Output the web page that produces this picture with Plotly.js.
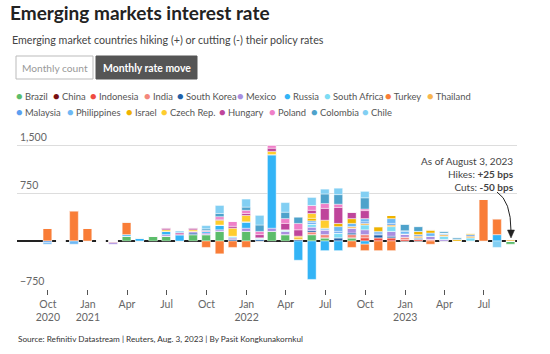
<!DOCTYPE html>
<html>
<head>
<meta charset="utf-8">
<script src="https://cdn.plot.ly/plotly-3.0.1.min.js"></script>
<style>
  html, body { margin: 0; padding: 0; background: #fff; }
  #chart { width: 550px; height: 354px; }
</style>
</head>
<body>
<div id="chart"></div>
<script>
// Months (bars drawn at month end)
const months = ["2020-09-30","2020-10-31","2020-11-30","2020-12-31","2021-01-31","2021-02-28","2021-03-31","2021-04-30","2021-05-31","2021-06-30","2021-07-31","2021-08-31","2021-09-30","2021-10-31","2021-11-30","2021-12-31","2022-01-31","2022-02-28","2022-03-31","2022-04-30","2022-05-31","2022-06-30","2022-07-31","2022-08-31","2022-09-30","2022-10-31","2022-11-30","2022-12-31","2023-01-31","2023-02-28","2023-03-31","2023-04-30","2023-05-31","2023-06-30","2023-07-31","2023-08-31"];

// Monthly policy-rate moves in basis points, per country
const brazil      = [0,0,0,0,0,0,75,0,75,75,0,100,100,150,0,150,0,150,100,0,100,50,0,50,0,0,0,0,0,0,0,0,0,0,0,-50];
const china       = [0,0,0,0,0,0,0,0,0,0,0,0,0,0,0,0,0,0,0,0,0,0,0,0,0,0,0,0,0,0,0,0,0,0,0,0];
const indonesia   = [0,0,0,0,0,-25,0,0,0,0,0,0,0,0,0,0,0,0,0,0,0,0,0,0,50,50,50,25,25,0,0,0,0,0,0,0];
const india       = [0,0,0,0,0,0,0,0,0,0,0,0,0,0,0,0,0,0,0,0,40,50,0,50,50,0,0,35,0,25,0,0,0,0,0,0];
const southKorea  = [0,0,0,0,0,0,0,0,0,0,0,25,0,0,25,0,25,0,0,25,25,0,50,25,0,50,25,0,25,0,0,0,0,0,0,0];
const mexico      = [0,0,0,0,0,-25,0,0,0,25,0,25,25,25,25,50,0,50,50,0,50,75,0,75,75,0,75,50,0,50,25,0,0,0,0,0];
const russia      = [0,0,0,0,0,0,25,50,0,50,100,0,25,75,0,100,0,1150,0,-300,-600,-150,-150,0,-50,0,0,0,0,0,0,0,0,0,100,0];
const southAfrica = [0,0,0,0,0,0,0,0,0,0,0,0,0,0,25,0,25,0,25,0,50,0,75,0,75,0,75,0,0,0,50,0,50,0,0,0];
const turkey      = [200,0,475,200,0,0,200,0,0,0,0,0,-100,-200,-100,-100,0,0,0,0,0,0,0,-100,-100,-150,-150,0,0,-50,0,0,0,650,250,0];
const thailand    = [0,0,0,0,0,0,0,0,0,0,0,0,0,0,0,0,0,0,0,0,0,0,0,25,25,0,25,0,25,0,25,0,25,0,0,25];
const malaysia    = [-25,0,0,0,0,0,0,0,0,0,0,0,0,0,0,0,0,0,0,0,25,0,25,0,25,25,25,0,25,0,0,0,25,0,0,0];
const philippines = [-25,0,-50,0,0,0,0,0,0,0,0,0,0,0,0,0,0,0,0,0,25,25,75,50,50,25,75,50,0,50,25,0,0,0,0,0];
const israel      = [0,0,0,0,0,0,0,0,0,0,0,0,0,0,0,0,0,0,0,25,40,0,50,75,0,75,50,0,50,50,0,25,25,0,0,0];
const czech       = [0,0,0,0,0,0,0,0,0,25,0,25,0,75,125,100,0,50,0,25,75,125,0,0,0,0,0,0,0,0,0,0,0,0,0,0];
const hungary     = [0,0,0,0,0,0,0,0,0,30,30,30,15,15,30,30,50,50,100,100,50,185,250,100,125,0,0,0,0,0,0,0,0,0,0,0];
const poland      = [0,0,0,0,0,0,0,0,0,0,0,0,0,40,75,50,50,50,75,100,75,75,50,0,25,0,0,0,0,0,0,0,0,0,0,0];
const colombia    = [0,0,0,0,0,0,0,0,0,0,0,0,25,50,0,50,100,0,100,100,0,150,150,0,175,0,0,100,75,0,25,25,0,0,0,0];
const chile       = [0,0,0,0,0,0,0,0,0,0,25,0,50,125,0,125,150,0,150,0,125,75,100,0,100,0,0,0,0,0,0,0,0,0,-100,0];

const countries = ["Brazil","China","Indonesia","India","South Korea","Mexico","Russia","South Africa","Turkey","Thailand","Malaysia","Philippines","Israel","Czech Rep.","Hungary","Poland","Colombia","Chile"];
const seriesList = [brazil,china,indonesia,india,southKorea,mexico,russia,southAfrica,turkey,thailand,malaysia,philippines,israel,czech,hungary,poland,colombia,chile];
const colors = ["#5cbd6b","#7a1010","#ef4b40","#f4877b","#2160a8","#a98ee0","#33b4f6","#7ddcf4","#f97d37","#f8b64d","#5c9ff0","#6eb8f4","#efb300","#fecd2e","#bf459b","#ef80c8","#4ea2cb","#82cff3"];

// Axis ticks
const tickDates = ["2020-10-01","2021-01-01","2021-04-01","2021-07-01","2021-10-01","2022-01-01","2022-04-01","2022-07-01","2022-10-01","2023-01-01","2023-04-01","2023-07-01"];
const tickText  = ["Oct<br>2020","Jan<br>2021","Apr","Jul","Oct","Jan<br>2022","Apr","Jul","Oct","Jan<br>2023","Apr","Jul"];
const yTickVals = [-750, 750, 1500];
const yTickText = ["\u2212750", "750", "1,500"];

// Layout geometry (pixels)
const W = 550, H = 354;
const M = {l: 17, r: 33, t: 126, b: 65};
const PW = W - M.l - M.r, PH = H - M.t - M.b;
const BPS_PER_PX = 15.625;
const px = x => (x - M.l) / PW;
const py = y => (H - M.b - y) / PH;

const FONT = "Lato, 'Open Sans', sans-serif";

const traces = countries.map((name, i) => ({
  type: "bar",
  name: name,
  x: months,
  y: seriesList[i],
  width: 20 * 86400000,
  marker: {color: colors[i], line: {color: "rgba(255,255,255,0.7)", width: 0.6}},
  showlegend: false,
  hoverinfo: "x+y+name"
}));

// Custom legend (dot + label)
const legendRow1 = [["Brazil",18],["China",55.5],["Indonesia",92],["India",146],["South Korea",179],["Mexico",239],["Russia",286],["South Africa",326],["Turkey",387],["Thailand",429]];
const legendRow2 = [["Malaysia",18],["Philippines",69],["Israel",128],["Czech Rep.",163],["Hungary",221],["Poland",271],["Colombia",313],["Chile",364]];

const annotations = [];
function addLegend(row, y) {
  row.forEach(([name, cx]) => {
    const c = colors[countries.indexOf(name)];
    annotations.push({
      xref: "paper", yref: "paper", x: px(cx - 4.5), y: py(y),
      xanchor: "left", yanchor: "middle", showarrow: false,
      text: '<span style="color:' + c + ';font-size:11px">\u25CF</span> ' + name,
      font: {family: FONT, size: 9.4, color: "#555"}
    });
  });
}
addLegend(legendRow1, 95);
addLegend(legendRow2, 111);

// Subtitle
annotations.push({
  xref: "paper", yref: "paper", x: px(10), y: py(39), xanchor: "left", yanchor: "middle",
  showarrow: false, text: "Emerging market countries hiking (+) or cutting (-) their policy rates",
  font: {family: FONT, size: 10.7, color: "#444"}
});
// Buttons text
annotations.push({
  xref: "paper", yref: "paper", x: px(54.5), y: py(67.5), xanchor: "center", yanchor: "middle",
  showarrow: false, text: "Monthly count", font: {family: FONT, size: 10.2, color: "#999"}
});
annotations.push({
  xref: "paper", yref: "paper", x: px(146.5), y: py(67.5), xanchor: "center", yanchor: "middle",
  showarrow: false, text: "<b>Monthly rate move</b>", font: {family: FONT, size: 10.4, color: "#fff"}
});
// Note
annotations.push({
  xref: "paper", yref: "paper", x: px(516), y: py(153), xanchor: "right", yanchor: "top",
  showarrow: false, align: "right",
  text: "As of August 3, 2023<br>Hikes: <b>+25 bps</b><br>Cuts: <b>-50 bps</b>",
  font: {family: FONT, size: 10, color: "#444"}
});
// Source
annotations.push({
  xref: "paper", yref: "paper", x: px(16), y: py(339), xanchor: "left", yanchor: "middle",
  showarrow: false, text: "Source: Refinitiv Datastream | Reuters, Aug. 3, 2023 | By Pasit Kongkunakornkul",
  font: {family: FONT, size: 8.2, color: "#333"}
});

const shapes = [
  {type: "rect", xref: "paper", yref: "paper", x0: px(16), x1: px(93), y0: py(56), y1: py(79),
   line: {color: "#bbb", width: 1}, fillcolor: "#fff", layer: "above"},
  {type: "rect", xref: "paper", yref: "paper", x0: px(96), x1: px(197), y0: py(56), y1: py(79),
   line: {color: "#555", width: 1}, fillcolor: "#555", layer: "above"},
  {type: "path", xref: "paper", yref: "paper",
   path: "M " + px(497) + "," + py(192) + " Q " + px(511) + "," + py(201) + " " + px(511) + "," + py(231),
   line: {color: "#222", width: 1}},
  {type: "path", xref: "paper", yref: "paper",
   path: "M " + px(507.5) + "," + py(230) + " L " + px(514.5) + "," + py(230) + " L " + px(511) + "," + py(238) + " Z",
   line: {color: "#222", width: 0.5}, fillcolor: "#222"}
];

const layout = {
  width: W, height: H,
  margin: M,
  paper_bgcolor: "#fff", plot_bgcolor: "#fff",
  barmode: "relative",
  title: {
    text: "<b>Emerging markets interest rate</b>",
    xref: "container", yref: "container", x: 10 / W, y: 1 - 13 / H,
    xanchor: "left", yanchor: "middle",
    font: {family: FONT, size: 19, color: "#222"}
  },
  xaxis: {
    type: "date",
    range: ["2020-07-22", "2023-09-15"],
    tickmode: "array", tickvals: tickDates, ticktext: tickText,
    ticks: "outside", ticklen: 5, tickcolor: "#555", tickwidth: 1,
    showgrid: false, showline: false, zeroline: false,
    tickfont: {family: FONT, size: 10.5, color: "#666"}
  },
  yaxis: {
    range: [-750, -750 + PH * BPS_PER_PX],
    tickmode: "array", tickvals: yTickVals, ticktext: yTickText,
    ticklabelposition: "inside top",
    ticks: "", showgrid: true, gridcolor: "#ddd", gridwidth: 1,
    zeroline: true, zerolinecolor: "#222", zerolinewidth: 1.2,
    showline: false,
    tickfont: {family: FONT, size: 10.5, color: "#666"}
  },
  annotations: annotations,
  shapes: shapes,
  showlegend: false
};

Plotly.newPlot("chart", traces, layout, {displayModeBar: false, staticPlot: true});
</script>
</body>
</html>
